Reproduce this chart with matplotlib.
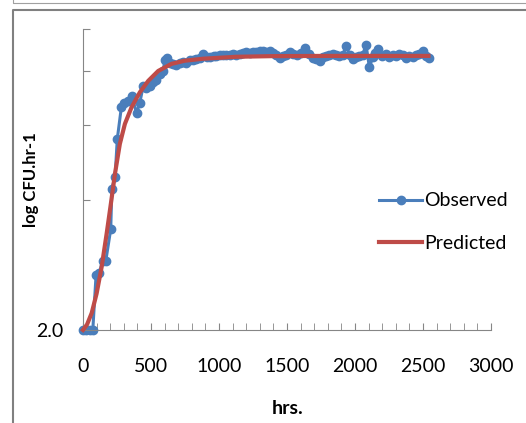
import numpy as np
import matplotlib.pyplot as plt
from matplotlib.lines import Line2D

plt.rcParams['font.family'] = ['Lato', 'DejaVu Sans']

# Observed growth (hrs, value)
obs_hrs = [0, 24, 48, 72, 96, 120, 144, 168, 204, 212, 236, 252, 282, 305, 330, 357,
           394, 418, 443, 465, 490, 515, 540, 565, 589, 602, 614, 640, 665, 687, 710,
           735, 761, 785, 810, 834, 860, 883, 910, 935, 960, 981, 1005, 1030, 1055,
           1080, 1103, 1128, 1152, 1176, 1201, 1225, 1250, 1275, 1299, 1323, 1348,
           1372, 1397, 1421, 1445, 1470, 1495, 1519, 1545, 1570, 1600, 1629, 1660,
           1690, 1715, 1739, 1765, 1790, 1812, 1836, 1860, 1885, 1910, 1935, 1960,
           1983, 2008, 2032, 2057, 2081, 2106, 2130, 2150, 2172, 2200, 2228, 2252,
           2277, 2301, 2326, 2350, 2375, 2400, 2423, 2448, 2472, 2497, 2522, 2546]
obs_vals = [2.0, 2.0, 2.0, 2.0, 2.68, 2.71, 2.90, 2.90, 3.43, 4.26, 4.53, 5.55, 6.58,
            6.72, 6.80, 7.00, 6.38, 6.75, 7.38, 7.30, 7.38, 7.55, 7.62, 7.85, 8.00,
            8.45, 8.58, 8.35, 8.30, 8.25, 8.35, 8.38, 8.36, 8.45, 8.48, 8.50, 8.55,
            8.74, 8.60, 8.62, 8.65, 8.66, 8.70, 8.68, 8.72, 8.70, 8.74, 8.72, 8.76,
            8.78, 8.82, 8.80, 8.84, 8.86, 8.90, 8.88, 8.86, 8.90, 8.80, 8.70, 8.58,
            8.66, 8.72, 8.82, 8.75, 8.70, 8.78, 9.05, 8.75, 8.58, 8.50, 8.44, 8.60,
            8.66, 8.70, 8.74, 8.68, 8.64, 8.70, 9.14, 8.72, 8.50, 8.62, 8.66, 8.72,
            9.20, 8.14, 8.60, 8.80, 8.98, 8.66, 8.74, 8.62, 8.70, 8.66, 8.74, 8.68,
            8.58, 8.66, 8.62, 8.68, 8.74, 8.90, 8.66, 8.58]

# Predicted (model) curve
pred_hrs = [0, 30, 64, 100, 137, 174, 205, 235, 271, 308, 357, 418, 480, 553, 651,
            748, 883, 1128, 1400, 1800, 2200, 2540]
pred_vals = [2.0, 2.06, 2.19, 2.43, 2.80, 3.35, 3.93, 4.61, 5.41, 6.02, 6.58, 7.13,
             7.58, 7.99, 8.30, 8.44, 8.53, 8.62, 8.65, 8.66, 8.66, 8.66]

y_ticks = [2, 4, 6, 8, 10]
y_labels = ['2.0', '', '', '', '']
x_ticks = [0, 500, 1000, 1500, 2000, 2500, 3000]

blue = '#4a7ebb'
red = '#be4b48'
grey = '#868686'

fig = plt.figure(figsize=(5.26, 4.23), dpi=100)
ax = fig.add_axes([83/526, 1 - 330/423, (491 - 83)/526, (330 - 29)/423])

ax.plot(obs_hrs, obs_vals, color=blue, lw=2.2, marker='o', ms=6,
        label='Observed', zorder=2, clip_on=False)
ax.plot(pred_hrs, pred_vals, color=red, lw=3, label='Predicted', zorder=3,
        clip_on=False)

ax.set_yscale('log')
ax.set_ylim(2, 10)
ax.set_xlim(0, 3000)
ax.set_yticks(y_ticks)
ax.set_yticklabels(y_labels)
ax.yaxis.set_minor_locator(plt.NullLocator())
ax.set_xticks(x_ticks)
ax.set_xticks(np.arange(0, 3001, 100), minor=True)

for s in ['top', 'right']:
    ax.spines[s].set_visible(False)
for s in ['left', 'bottom']:
    ax.spines[s].set_color(grey)
    ax.spines[s].set_linewidth(0.8)

ax.tick_params(axis='both', which='both', direction='in', length=5, color=grey,
               labelsize=14, labelcolor='black')
ax.tick_params(axis='x', pad=20)
ax.tick_params(axis='y', pad=14)

ax.set_ylabel('log CFU.hr-1', fontsize=12, fontweight='bold')
ax.yaxis.set_label_coords(-0.108, 0.5)
ax.set_xlabel('hrs.', fontsize=14, fontweight='bold')
ax.xaxis.set_label_coords(0.501, -0.232)

ax.legend(loc='upper left', bbox_to_anchor=(0.683, 0.515), frameon=False,
          fontsize=14, handlelength=2.2, handletextpad=0.1, labelspacing=1.3)

# outer frames from the original page
fig.add_artist(Line2D([13/526, 13/526, 1], [1, 1 - 3/423, 1 - 3/423],
                      color='#a0a0a0', lw=0.8))
fig.add_artist(Line2D([1, 13/526, 13/526], [1 - 10/423, 1 - 10/423, 0],
                      color='#808080', lw=1.5))

fig.savefig('out.png', dpi=100)
